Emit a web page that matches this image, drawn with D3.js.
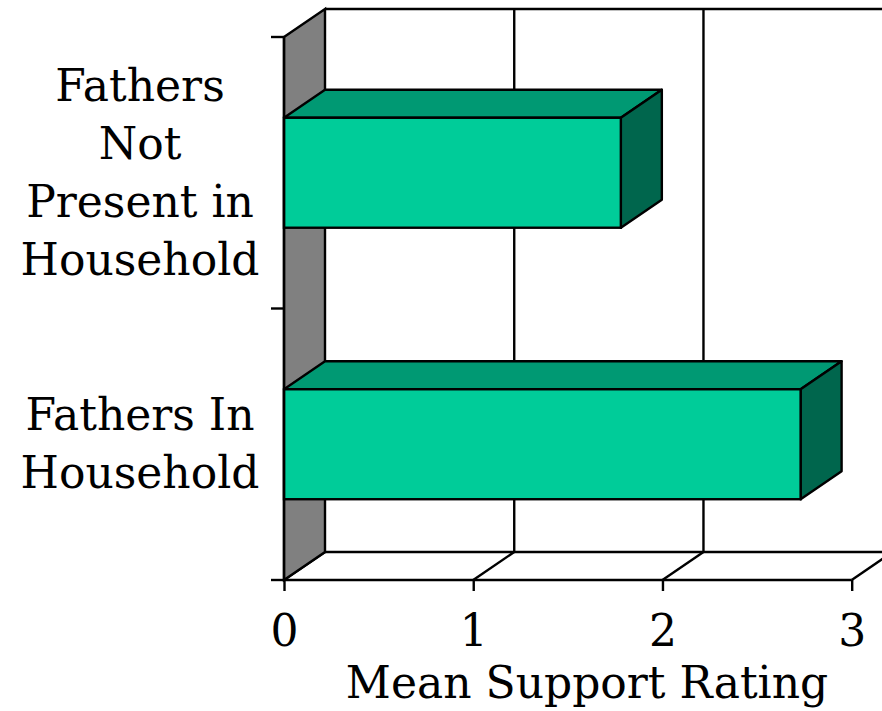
<!DOCTYPE html>
<html>
<head>
<meta charset="utf-8">
<script src="https://cdn.jsdelivr.net/npm/d3@7"></script>
<style>
  html, body { margin: 0; padding: 0; background: #fff; }
  svg { display: block; }
  text { font-family: "DejaVu Serif", "Liberation Serif", serif; fill: #000; }
</style>
</head>
<body>
<svg id="chart" width="882" height="711"></svg>
<script>
// ---- data ----
const categories = ["Fathers Not Present in Household", "Fathers In Household"];
const categoryLines = [["Fathers", "Not", "Present in", "Household"], ["Fathers In", "Household"]];
const values = [1.78, 2.73];
const xTicks = [0, 1, 2, 3];
const xTitle = "Mean Support Rating";

// ---- layout ----
const plotLeft = 284, plotRight = 851.7, plotTop = 37, plotBottom = 580;
const dx = 41, dy = 28;   // 3D depth offset
const svg = d3.select("#chart");

const x = d3.scaleLinear().domain([0, 3]).range([plotLeft, plotRight]);
const y = d3.scaleBand().domain(categories).range([plotTop, plotBottom])
  .paddingInner(0.595).paddingOuter(0.2975);

const frontColor = "#00CC99", topColor = "#009973", sideColor = "#00664D";
const lineW = 2.4;

// back wall top edge & grid lines
svg.append("line").attr("x1", x(0) + dx).attr("x2", x(3) + dx)
  .attr("y1", plotTop - dy).attr("y2", plotTop - dy)
  .attr("stroke", "#000").attr("stroke-width", lineW);
xTicks.filter(d => d > 0).forEach(v => {
  svg.append("line").attr("x1", x(v) + dx).attr("x2", x(v) + dx)
    .attr("y1", plotTop - dy).attr("y2", plotBottom - dy)
    .attr("stroke", "#000").attr("stroke-width", lineW);
});

// floor
svg.append("line").attr("x1", x(0) + dx).attr("x2", x(3) + dx)
  .attr("y1", plotBottom - dy).attr("y2", plotBottom - dy)
  .attr("stroke", "#000").attr("stroke-width", lineW);
xTicks.forEach(v => {
  svg.append("line").attr("x1", x(v)).attr("x2", x(v) + dx)
    .attr("y1", plotBottom).attr("y2", plotBottom - dy)
    .attr("stroke", "#000").attr("stroke-width", lineW);
});

// left gray wall
svg.append("polygon")
  .attr("points", [[x(0), plotTop], [x(0) + dx, plotTop - dy], [x(0) + dx, plotBottom - dy], [x(0), plotBottom]].join(" "))
  .attr("fill", "#808080").attr("stroke", "#000").attr("stroke-width", lineW)
  .attr("stroke-linejoin", "miter");

// bars
categories.forEach((c, i) => {
  const x0 = x(0), x1 = x(values[i]);
  const y0 = y(c), y1 = y(c) + y.bandwidth();
  const g = svg.append("g");
  g.append("polygon")
    .attr("points", [[x0, y0], [x0 + dx, y0 - dy], [x1 + dx, y0 - dy], [x1, y0]].join(" "))
    .attr("fill", topColor).attr("stroke", "#000").attr("stroke-width", lineW).attr("stroke-linejoin", "round");
  g.append("polygon")
    .attr("points", [[x1, y0], [x1 + dx, y0 - dy], [x1 + dx, y1 - dy], [x1, y1]].join(" "))
    .attr("fill", sideColor).attr("stroke", "#000").attr("stroke-width", lineW).attr("stroke-linejoin", "round");
  g.append("rect")
    .attr("x", x0).attr("y", y0).attr("width", x1 - x0).attr("height", y1 - y0)
    .attr("fill", frontColor).attr("stroke", "#000").attr("stroke-width", lineW);
});

// front axes
svg.append("line").attr("x1", x(0)).attr("x2", x(0)).attr("y1", plotTop).attr("y2", plotBottom)
  .attr("stroke", "#000").attr("stroke-width", lineW);
svg.append("line").attr("x1", x(0)).attr("x2", x(3)).attr("y1", plotBottom).attr("y2", plotBottom)
  .attr("stroke", "#000").attr("stroke-width", lineW);

// x ticks and labels
const xAxis = d3.axisBottom(x).tickValues(xTicks).tickSize(11).tickPadding(8).tickFormat(d3.format("d"));
const gx = svg.append("g").attr("transform", `translate(0,${plotBottom})`).call(xAxis);
gx.select(".domain").remove();
gx.selectAll(".tick line").attr("stroke", "#000").attr("stroke-width", lineW);
gx.selectAll(".tick text").attr("font-size", 44).attr("font-family", "DejaVu Serif, serif")
  .attr("fill", "#000").attr("dy", null).attr("y", 66);

// y ticks (category boundaries)
const bounds = [plotTop, ...categories.slice(1).map(c => y(c) - y.step() * y.paddingInner() / 2), plotBottom];
bounds.forEach(b => {
  svg.append("line").attr("x1", x(0) - 13).attr("x2", x(0)).attr("y1", b).attr("y2", b)
    .attr("stroke", "#000").attr("stroke-width", lineW);
});

// category labels
const lineH = 58;
categories.forEach((c, i) => {
  const lines = categoryLines[i];
  const cy = y(c) + y.bandwidth() / 2;
  const t = svg.append("text").attr("text-anchor", "middle").attr("font-size", 44);
  lines.forEach((ln, j) => {
    t.append("tspan").attr("x", 140)
      .attr("y", cy + (j - (lines.length - 1) / 2) * lineH + 15)
      .text(ln);
  });
});

// axis title
svg.append("text").attr("x", 587).attr("y", 698).attr("text-anchor", "middle")
  .attr("font-size", 44).text(xTitle);
</script>
</body>
</html>
